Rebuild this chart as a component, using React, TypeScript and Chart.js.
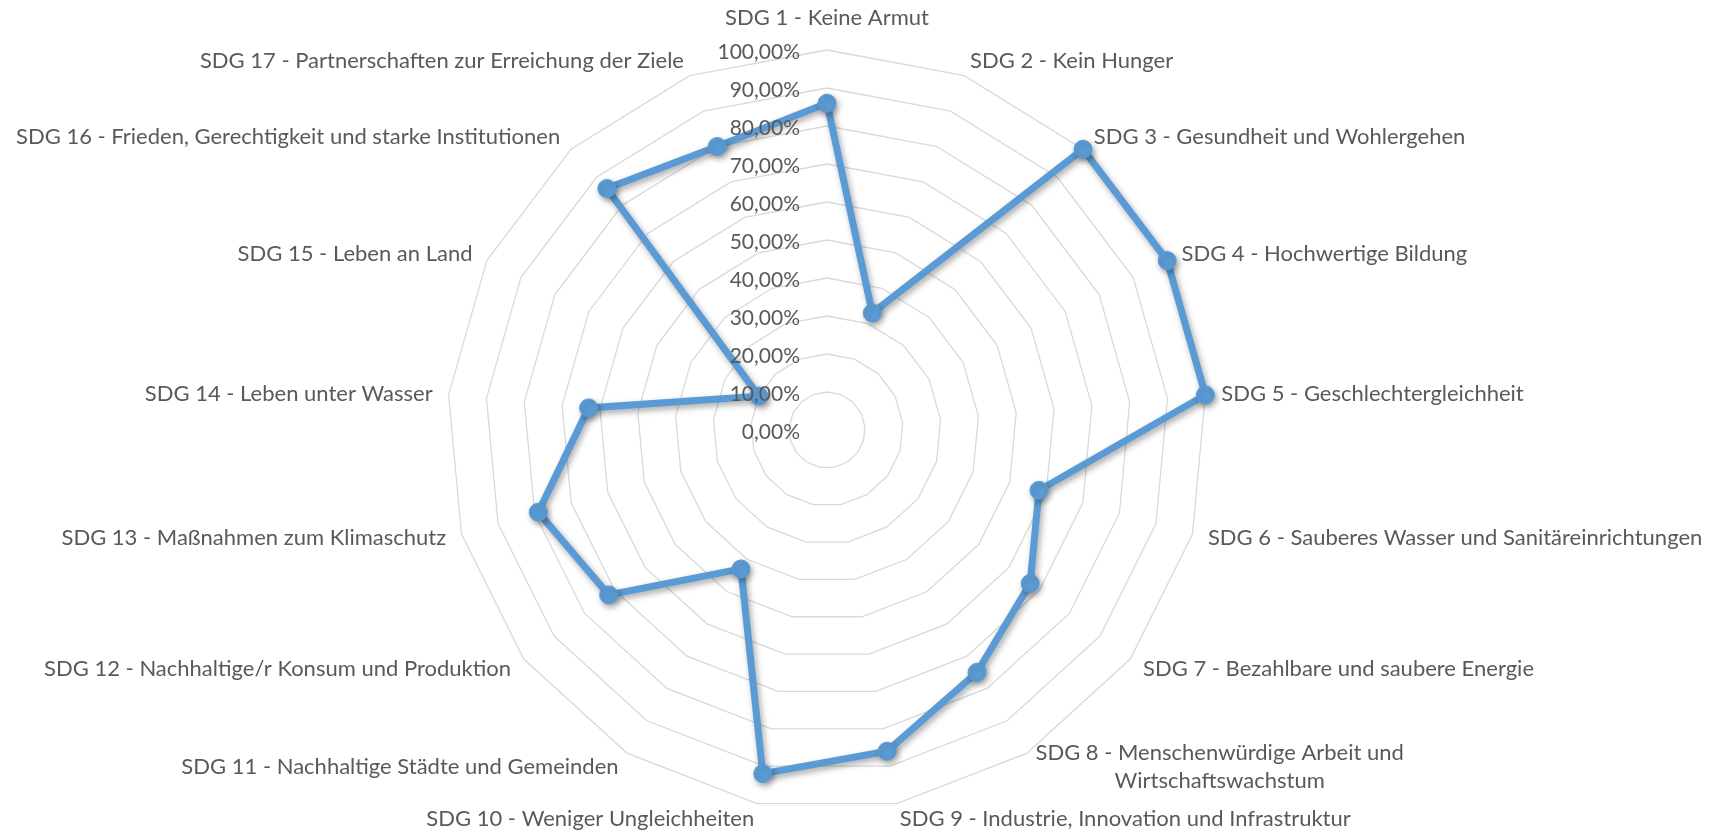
import React, { useEffect, useRef } from "react";
import { Chart, registerables } from "chart.js";

Chart.register(...registerables);

const categories: string[][] = [
  ["SDG 1 - Keine Armut"],
  ["SDG 2 - Kein Hunger"],
  ["SDG 3 - Gesundheit und Wohlergehen"],
  ["SDG 4 - Hochwertige Bildung"],
  ["SDG 5 - Geschlechtergleichheit"],
  ["SDG 6 - Sauberes Wasser und Sanitäreinrichtungen"],
  ["SDG 7 - Bezahlbare und saubere Energie"],
  ["SDG 8 - Menschenwürdige Arbeit und", "Wirtschaftswachstum"],
  ["SDG 9 - Industrie, Innovation und Infrastruktur"],
  ["SDG 10 - Weniger Ungleichheiten"],
  ["SDG 11 - Nachhaltige Städte und Gemeinden"],
  ["SDG 12 - Nachhaltige/r Konsum und Produktion"],
  ["SDG 13 - Maßnahmen zum Klimaschutz"],
  ["SDG 14 - Leben unter Wasser"],
  ["SDG 15 - Leben an Land"],
  ["SDG 16 - Frieden, Gerechtigkeit und starke Institutionen"],
  ["SDG 17 - Partnerschaften zur Erreichung der Ziele"],
];

const values: number[] = [
  0.86, 0.33, 1.0, 1.0, 1.0, 0.58, 0.67, 0.75, 0.86, 0.92, 0.43, 0.72, 0.79, 0.63, 0.2, 0.86, 0.8,
];

const tickValues: number[] = [0, 0.1, 0.2, 0.3, 0.4, 0.5, 0.6, 0.7, 0.8, 0.9, 1.0];

const FONT_FAMILY = "Lato";
const LABEL_SIZE = 22;
const TICK_SIZE = 21;
const TEXT_COLOR = "#595959";
const SERIES_COLOR = "#5B9BD5";

const fmtPct = (v: number) => (v * 100).toFixed(2).replace(".", ",") + "%";

const labelsPlugin = {
  id: "excelLabels",
  afterDraw(chart: any) {
    const scale = chart.scales.r;
    const ctx: CanvasRenderingContext2D = chart.ctx;
    ctx.save();
    ctx.fillStyle = TEXT_COLOR;
    // tick labels, right aligned left of the vertical axis
    ctx.font = `${TICK_SIZE}px ${FONT_FAMILY}`;
    ctx.textAlign = "right";
    ctx.textBaseline = "middle";
    scale.ticks.forEach((t: any) => {
      const d = scale.getDistanceFromCenterForValue(t.value);
      ctx.fillText(fmtPct(t.value), scale.xCenter - 27, scale.yCenter - d + 2);
    });
    // point labels
    ctx.font = `${LABEL_SIZE}px ${FONT_FAMILY}`;
    const lineH = 28;
    const labels: string[][] = chart.data.labels;
    labels.forEach((lines, i) => {
      const p = scale.getPointPosition(i, scale.drawingArea + 16);
      const dx = p.x - scale.xCenter;
      const blockH = lines.length * lineH;
      let yTop = p.y - blockH / 2;
      const widths = lines.map((l) => ctx.measureText(l).width);
      const maxW = Math.max(...widths);
      let left: number;
      if (Math.abs(dx) < 1) {
        left = p.x - maxW / 2;
        yTop = p.y - blockH - 2;
      } else if (dx > 0) {
        left = p.x;
      } else {
        left = p.x - maxW;
      }
      ctx.textAlign = "center";
      lines.forEach((l, k) => {
        ctx.fillText(l, left + maxW / 2, yTop + lineH * k + lineH / 2);
      });
    });
    ctx.restore();
  },
};

const shadowPlugin = {
  id: "seriesShadow",
  beforeDatasetsDraw(chart: any) {
    const ctx = chart.ctx;
    ctx.save();
    ctx.shadowColor = "rgba(0,0,0,0.35)";
    ctx.shadowBlur = 6;
    ctx.shadowOffsetX = 2;
    ctx.shadowOffsetY = 3;
  },
  afterDatasetsDraw(chart: any) {
    chart.ctx.restore();
  },
};

export default function App() {
  const ref = useRef<HTMLCanvasElement | null>(null);
  useEffect(() => {
    if (!ref.current) return;
    const chart = new Chart(ref.current, {
      type: "radar",
      data: {
        labels: categories as any,
        datasets: [
          {
            label: "Erfüllungsgrad",
            data: values,
            borderColor: SERIES_COLOR,
            backgroundColor: SERIES_COLOR,
            borderWidth: 7,
            fill: false,
            pointRadius: 9,
            pointBackgroundColor: SERIES_COLOR,
            pointBorderColor: SERIES_COLOR,
            pointBorderWidth: 1,
            tension: 0,
          },
        ],
      },
      options: {
        responsive: true,
        maintainAspectRatio: false,
        animation: false,
        layout: { padding: { left: 447, right: 504, top: 50, bottom: 23 } },
        plugins: { legend: { display: false }, tooltip: { enabled: false } },
        scales: {
          r: {
            min: 0,
            max: 1,
            afterBuildTicks: (s: any) => {
              s.ticks = tickValues.map((v) => ({ value: v }));
            },
            ticks: { display: false, showLabelBackdrop: false },
            grid: { color: "#D9D9D9", lineWidth: 1.3, circular: false },
            angleLines: { display: false },
            pointLabels: { display: false },
          },
        },
      },
      plugins: [shadowPlugin, labelsPlugin],
    });
    return () => chart.destroy();
  }, []);
  return (
    <div style={{ position: "fixed", left: 0, top: 0, width: 1711, height: 833, background: "#fff" }}>
      <canvas ref={ref} />
    </div>
  );
}
